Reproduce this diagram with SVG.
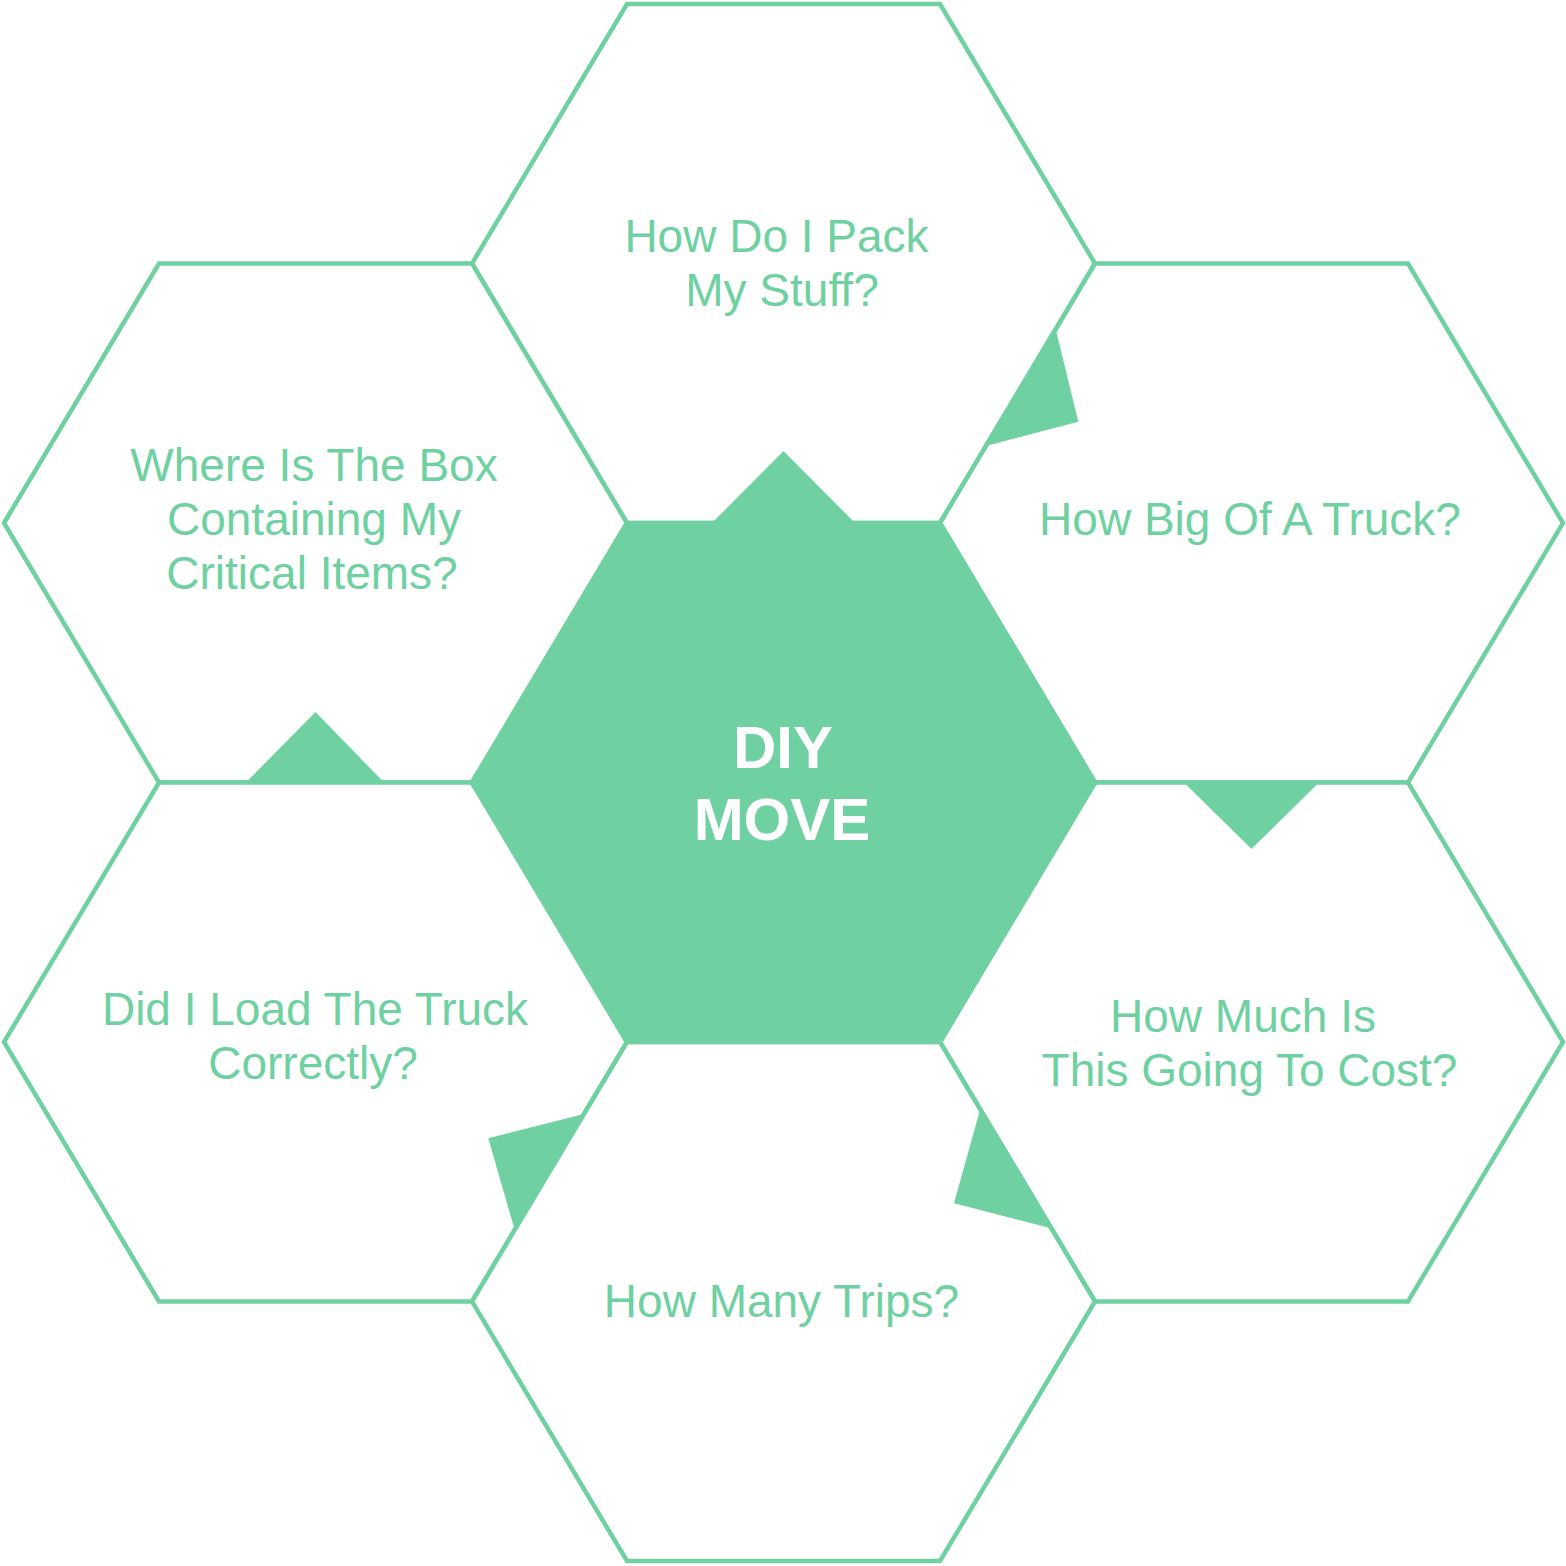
<svg xmlns="http://www.w3.org/2000/svg" width="1566" height="1566" viewBox="0 0 1566 1566">
  <style>
    .hex { fill: #FFFFFF; stroke: #6FD1A1; stroke-width: 4.5; stroke-linejoin: miter; }
    .core { fill: #6FD1A1; stroke: #6FD1A1; stroke-width: 4.5; }
    .arrow { fill: #6FD1A1; stroke: none; }
    .label { font-family: "Liberation Sans", Arial, sans-serif; font-size: 46px; fill: #6FD1A1; text-anchor: middle; }
    .title { font-family: "Liberation Sans", Arial, sans-serif; font-size: 60px; font-weight: bold; fill: #FFFFFF; text-anchor: middle; }
  </style>
  <rect x="0" y="0" width="1566" height="1566" fill="#FFFFFF"/>

  <g id="node-pack">
    <polygon class="hex" points="472,263.5 627,4 940,4 1095,263.5 940,523 627,523"/>
    <text class="label" x="776.5" y="252">How Do I Pack</text>
    <text class="label" x="782" y="306">My Stuff?</text>
  </g>

  <g id="node-box">
    <polygon class="hex" points="4,523 159,263.5 472,263.5 627,523 472,782.5 159,782.5"/>
    <text class="label" x="314" y="481">Where Is The Box</text>
    <text class="label" x="314" y="535">Containing My</text>
    <text class="label" x="312" y="589">Critical Items?</text>
  </g>

  <g id="node-truck">
    <polygon class="hex" points="940,523 1095,263.5 1408,263.5 1563,523 1408,782.5 1095,782.5"/>
    <text class="label" x="1250" y="535">How Big Of A Truck?</text>
  </g>

  <g id="node-load">
    <polygon class="hex" points="4,1042 159,782.5 472,782.5 627,1042 472,1301.5 159,1301.5"/>
    <text class="label" x="315" y="1025">Did I Load The Truck</text>
    <text class="label" x="313" y="1079">Correctly?</text>
  </g>

  <g id="node-cost">
    <polygon class="hex" points="940,1042 1095,782.5 1408,782.5 1563,1042 1408,1301.5 1095,1301.5"/>
    <text class="label" x="1243" y="1032">How Much Is</text>
    <text class="label" x="1249.5" y="1086">This Going To Cost?</text>
  </g>

  <g id="node-trips">
    <polygon class="hex" points="472,1301.5 627,1042 940,1042 1095,1301.5 940,1561 627,1561"/>
    <text class="label" x="781.5" y="1317">How Many Trips?</text>
  </g>

  <g id="node-center">
    <polygon class="core" points="472,782.5 627,523 940,523 1095,782.5 940,1042 627,1042"/>
    <text class="title" x="783" y="768">DIY</text>
    <text class="title" x="782" y="840">MOVE</text>
  </g>

  <g id="connectors">
    <polygon class="arrow" points="711,524 783.5,451 856,524"/>
    <polygon class="arrow" points="1055.7,329.3 1078.3,421.7 986,446"/>
    <polygon class="arrow" points="1183,781.5 1251.5,849 1320,781.5"/>
    <polygon class="arrow" points="980.2,1109.3 954,1203.3 1051.3,1228.3"/>
    <polygon class="arrow" points="584,1114 488.3,1138.3 514.7,1230"/>
    <polygon class="arrow" points="245,783.5 315.5,712 385,783.5"/>
  </g>
</svg>
